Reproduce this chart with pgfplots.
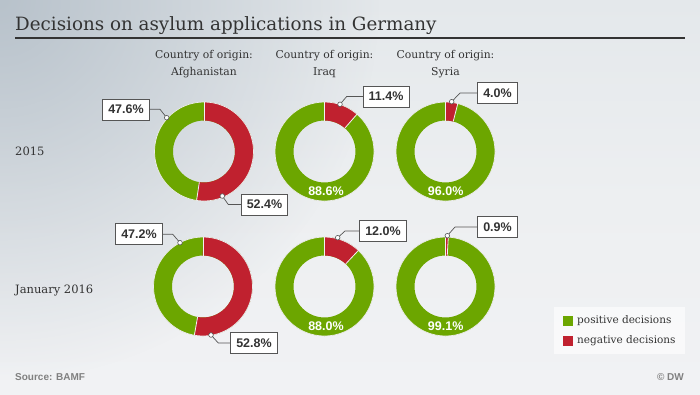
\documentclass[border=0pt]{standalone}
\usepackage{pgfplots}
\pgfplotsset{compat=1.18}
\usepackage{fontspec}
\setmainfont{DejaVu Serif}
\newfontfamily\lsans{Liberation Sans}
\usetikzlibrary{fadings}
\definecolor{posgreen}{HTML}{6CA600}
\definecolor{negred}{HTML}{C0212F}
\definecolor{bgdark}{HTML}{B8C2CB}
\definecolor{bgtop}{HTML}{E4E8EB}
\definecolor{bgmid}{HTML}{EDEFF1}
\definecolor{bgbot}{HTML}{F1F2F4}
\definecolor{txt}{HTML}{333333}
\definecolor{lbl}{HTML}{555555}
\tikzfading[name=myfade, inner color=transparent!0, outer color=transparent!100]
% donut: centre x, centre y (y measured downwards), negative share in percent
\newcommand{\donut}[3]{%
  \draw[posgreen, line width=18.5pt] (axis cs:#1,#2) circle[radius=40.25pt];
  \draw[negred, line width=18.5pt] (axis cs:#1,#2) ++(90:40.25pt) arc[start angle=90, delta angle={-3.6*#3}, radius=40.25pt];
  \draw[white!85!gray, line width=0.7pt] (axis cs:#1,#2) circle[radius=49.5pt];
  \draw[white!90!gray, line width=0.8pt] (axis cs:#1,#2) ++(90:31pt) -- ++(90:18.5pt);
  \draw[white!90!gray, line width=0.8pt] (axis cs:#1,#2) ++({90-3.6*#3}:31pt) -- ++({90-3.6*#3}:18.5pt);
}
% label: box x, box y, text, dot x, dot y, elbow x
\newcommand{\lab}[6]{%
  \draw[lbl, line width=0.7pt] (axis cs:#4,#5) -- (axis cs:#6,#2) -- (axis cs:#1,#2);
  \node[draw=lbl, line width=0.6pt, fill=white, text=txt, minimum height=21pt, inner xsep=5.5pt, inner ysep=0pt,
        font=\lsans\bfseries\fontsize{12.5}{14}\selectfont] at (axis cs:#1,#2) {#3};
  \filldraw[draw=lbl, fill=white, line width=0.6pt] (axis cs:#4,#5) circle[radius=2.3pt];
}
\newcommand{\inlab}[3]{%
  \node[text=white, font=\lsans\bfseries\fontsize{12.5}{14}\selectfont] at (axis cs:#1,#2) {#3};
}
\begin{document}
\begin{tikzpicture}
\begin{axis}[x=1pt, y=1pt, xmin=0, xmax=700, ymin=0, ymax=394, y dir=reverse,
  hide axis, clip=false, scale only axis]
% background
\shade[top color=bgtop, bottom color=bgmid] (axis cs:0,0) rectangle (axis cs:700,200);
\shade[top color=bgmid, bottom color=bgbot] (axis cs:0,200) rectangle (axis cs:700,394);
\begin{scope}
\clip (axis cs:0,0) rectangle (axis cs:700,394);
\fill[bgdark, path fading=myfade] (axis cs:0,0) circle[radius=380pt];
\end{scope}
% title
\node[anchor=base west, text=txt, font=\fontsize{18.3}{21}\selectfont, inner sep=0pt] at (axis cs:15,30) {Decisions on asylum applications in Germany};
\draw[txt, line width=1.4pt] (axis cs:15,38) -- (axis cs:685,38);
% column headers
\node[align=center, text=txt, font=\fontsize{10.8}{17}\selectfont] at (axis cs:204,64) {Country of origin:\\Afghanistan};
\node[align=center, text=txt, font=\fontsize{10.8}{17}\selectfont] at (axis cs:324.5,64) {Country of origin:\\Iraq};
\node[align=center, text=txt, font=\fontsize{10.8}{17}\selectfont] at (axis cs:445.5,64) {Country of origin:\\Syria};
% row labels
\node[anchor=west, text=txt, inner sep=0pt, font=\fontsize{11.5}{14}\selectfont] at (axis cs:15,151) {2015};
\node[anchor=west, text=txt, inner sep=0pt, font=\fontsize{11.5}{14}\selectfont] at (axis cs:15,291) {January 2016};
% donuts: 2015 (positive / negative)
\donut{204}{151.5}{52.4}   % Afghanistan 47.6 / 52.4
\donut{324.5}{151.5}{11.4} % Iraq 88.6 / 11.4
\donut{445.5}{151.5}{4.0}  % Syria 96.0 / 4.0
% donuts: January 2016
\donut{203}{286.5}{52.8}   % Afghanistan 47.2 / 52.8
\donut{324.5}{286.5}{12.0} % Iraq 88.0 / 12.0
\donut{445.5}{286.5}{0.9}  % Syria 99.1 / 0.9
% labels
\lab{126}{109.3}{47.6\%}{166.7}{117.7}{160}
\lab{264.5}{204.5}{52.4\%}{222.3}{196}{228.3}
\lab{386}{96.5}{11.4\%}{340}{104.3}{346.7}
\lab{497.5}{93}{4.0\%}{451.7}{101.7}{460}
\lab{139}{234.2}{47.2\%}{180}{242.7}{172.7}
\lab{254}{343}{52.8\%}{211}{335}{218.3}
\lab{383}{231}{12.0\%}{337.7}{237.7}{345}
\lab{497.5}{227}{0.9\%}{447.3}{235.7}{455}
\inlab{326}{191.5}{88.6\%}
\inlab{445.7}{191.5}{96.0\%}
\inlab{326}{325.7}{88.0\%}
\inlab{445.7}{325.7}{99.1\%}
% legend
\fill[white, opacity=0.6] (axis cs:554,306.7) rectangle (axis cs:685,354);
\fill[posgreen] (axis cs:563.3,316) rectangle (axis cs:572.7,326);
\fill[negred] (axis cs:563.3,336) rectangle (axis cs:572.7,346);
\node[anchor=west, inner sep=0pt, text=txt, font=\fontsize{10.5}{13}\selectfont] at (axis cs:577,321) {positive decisions};
\node[anchor=west, inner sep=0pt, text=txt, font=\fontsize{10.5}{13}\selectfont] at (axis cs:577,341) {negative decisions};
% footer
\node[anchor=west, inner sep=0pt, text=gray, font=\lsans\bfseries\fontsize{10}{12}\selectfont] at (axis cs:15,377) {Source: BAMF};
\node[anchor=east, inner sep=0pt, text=gray, font=\lsans\bfseries\fontsize{10}{12}\selectfont] at (axis cs:684,377) {\textcopyright\ DW};
\end{axis}
\end{tikzpicture}
\end{document}
